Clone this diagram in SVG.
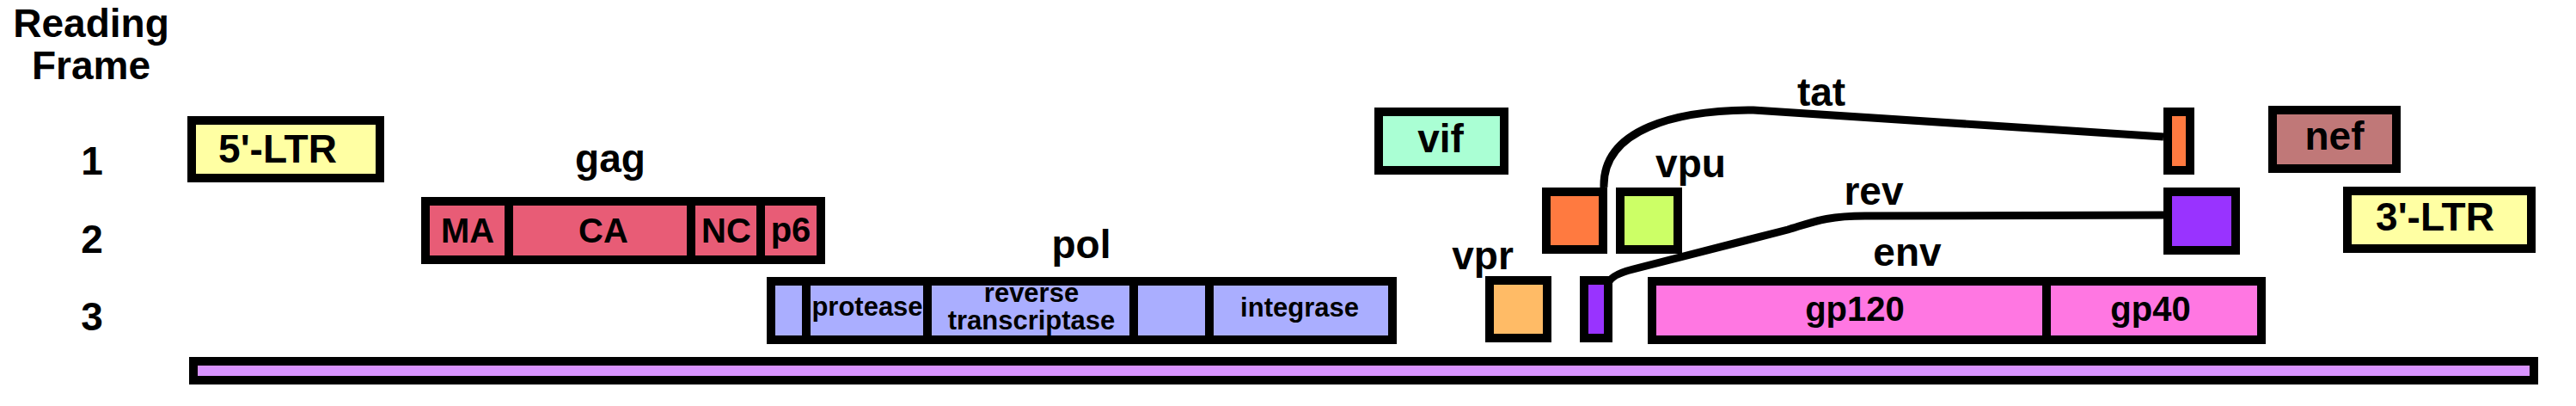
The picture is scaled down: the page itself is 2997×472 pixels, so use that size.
<svg xmlns="http://www.w3.org/2000/svg" width="2997" height="472" viewBox="0 0 2997 472">
<style>
.b{stroke:#000;stroke-width:10}
text{font-family:"Liberation Sans",Arial,sans-serif;font-weight:bold;fill:#000;text-anchor:middle}
.t46{font-size:46px}
.t40{font-size:40px}
.t30{font-size:31px}
.ltr{fill:#FFFFA3}.gag{fill:#E85C76}.pol{fill:#AAAEFF}.vif{fill:#AAFFD4}.tat{fill:#FF7A40}
.vpu{fill:#CCFF66}.vpr{fill:#FFBB66}.rev{fill:#9933FF}.env{fill:#FF77E2}.nef{fill:#C07878}.gen{fill:#D994FF}
.c{fill:none;stroke:#000;stroke-width:9}
</style>
<rect width="2997" height="472" fill="#fff"/>
<g id="axis">
<text class="t46" x="106" y="43">Reading</text>
<text class="t46" x="106" y="92">Frame</text>
<text class="t46" x="107" y="203">1</text>
<text class="t46" x="107" y="294">2</text>
<text class="t46" x="107" y="384">3</text>
</g>
<g id="connectors">
<path class="c" d="M1866,218 C1864,150 1950,128 2040,128 L2517,159"/>
<path class="c" d="M1871,331 Q1872,320 1900,313 L2080,267 C2110,258 2125,251 2170,251 L2517,250"/>
</g>
<g id="ltr5"><rect class="b ltr" x="223" y="140" width="219" height="67"/><text class="t46" x="323" y="189">5'-LTR</text></g>
<g id="gag">
<text class="t46" x="710" y="200">gag</text>
<rect class="b gag" x="495" y="234" width="97" height="68"/>
<rect class="b gag" x="592" y="234" width="212" height="68"/>
<rect class="b gag" x="804" y="234" width="81" height="68"/>
<rect class="b gag" x="885" y="234" width="70" height="68"/>
<text class="t40" x="544" y="282">MA</text>
<text class="t40" x="702" y="282">CA</text>
<text class="t40" x="845" y="282">NC</text>
<text class="t40" x="920" y="281">p6</text>
</g>
<g id="pol">
<text class="t46" x="1258" y="300">pol</text>
<rect class="b pol" x="897" y="327" width="41" height="68"/>
<rect class="b pol" x="938" y="327" width="141" height="68"/>
<rect class="b pol" x="1079" y="327" width="240" height="68"/>
<rect class="b pol" x="1319" y="327" width="88" height="68"/>
<rect class="b pol" x="1407" y="327" width="213" height="68"/>
<text class="t30" x="1009" y="367">protease</text>
<text class="t30" x="1200" y="351">reverse</text>
<text class="t30" x="1200" y="383">transcriptase</text>
<text class="t30" x="1512" y="368">integrase</text>
</g>
<g id="vif"><rect class="b vif" x="1604" y="130" width="146" height="68"/><text class="t46" x="1676" y="177">vif</text></g>
<g id="vpr"><text class="t46" x="1725" y="313">vpr</text><rect class="b vpr" x="1733" y="326" width="67" height="67"/></g>
<g id="tat1"><rect class="b tat" x="1799" y="223" width="66" height="67"/></g>
<g id="vpu"><text class="t46" x="1967" y="206">vpu</text><rect class="b vpu" x="1885" y="223" width="67" height="67"/></g>
<g id="rev1"><rect class="b rev" x="1843" y="326" width="28" height="67"/></g>
<g id="tat"><text class="t46" x="2119" y="123">tat</text><rect class="b tat" x="2522" y="130" width="26" height="68"/></g>
<g id="rev"><text class="t46" x="2180" y="238">rev</text><rect class="b rev" x="2522" y="223" width="79" height="68"/></g>
<g id="env">
<text class="t46" x="2219" y="309">env</text>
<rect class="b env" x="1922" y="327" width="459" height="68"/>
<rect class="b env" x="2381" y="327" width="250" height="68"/>
<text class="t40" x="2158" y="373">gp120</text>
<text class="t40" x="2502" y="373">gp40</text>
</g>
<g id="nef"><rect class="b nef" x="2644" y="128" width="144" height="68"/><text class="t46" x="2716" y="174">nef</text></g>
<g id="ltr3"><rect class="b ltr" x="2731" y="222" width="214" height="67"/><text class="t46" x="2833" y="268">3'-LTR</text></g>
<g id="genome"><rect class="b gen" x="225" y="420" width="2723" height="22"/></g>
</svg>
